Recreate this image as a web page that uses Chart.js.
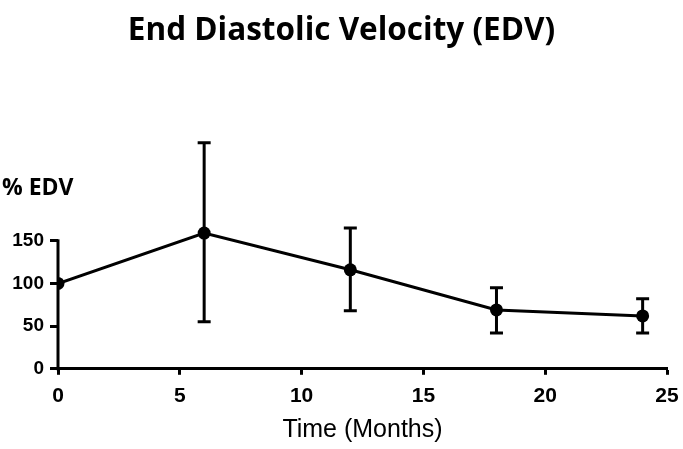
<!DOCTYPE html>
<html>
<head>
<meta charset="utf-8">
<script src="https://cdn.jsdelivr.net/npm/chart.js@4/dist/chart.umd.min.js"></script>
<style>
  html, body { margin: 0; padding: 0; background: #fff; }
  #wrap { width: 683px; height: 449px; }
</style>
</head>
<body>
<div id="wrap"><canvas id="edvChart" width="683" height="449"></canvas></div>
<script>
// data
const months = [0, 6, 12, 18, 24];
const edvMean = [100, 159, 116, 69, 62];
const edvUpper = [100, 265, 165, 95, 82];
const edvLower = [100, 55, 68, 42, 42];
const yTickValues = [0, 50, 100, 150];
const xTickValues = [0, 5, 10, 15, 20, 25];

const ctx = document.getElementById('edvChart').getContext('2d');

// error bars with caps
const errorBars = {
    id: 'errorBars',
    afterDatasetsDraw(chart) {
        const x = chart.scales.x, y = chart.scales.y;
        const c = chart.ctx;
        c.save();
        c.strokeStyle = '#000';
        c.lineWidth = 3;
        months.forEach((m, i) => {
            if (edvUpper[i] === edvLower[i]) return;
            const px = x.getPixelForValue(m);
            const top = y.getPixelForValue(edvUpper[i]);
            const bot = y.getPixelForValue(edvLower[i]);
            c.beginPath();
            c.moveTo(px, top); c.lineTo(px, bot);
            c.moveTo(px - 6.5, top); c.lineTo(px + 6.5, top);
            c.moveTo(px - 6.5, bot); c.lineTo(px + 6.5, bot);
            c.stroke();
        });
        c.restore();
    }
};

// y axis line only runs from 0 to 150, plus the "% EDV" label
const shortAxis = {
    id: 'shortAxis',
    beforeDatasetsDraw(chart) {
        const y = chart.scales.y;
        const c = chart.ctx;
        const left = chart.chartArea.left;
        c.save();
        c.strokeStyle = '#000';
        c.lineWidth = 3;
        c.beginPath();
        c.moveTo(left, y.getPixelForValue(0) + 1.5);
        c.lineTo(left, y.getPixelForValue(yTickValues[yTickValues.length - 1]) - 1.5);
        c.stroke();
        c.fillStyle = '#000';
        c.font = 'bold 23px "Open Sans", Lato, sans-serif';
        c.textAlign = 'left';
        c.textBaseline = 'middle';
        c.fillText('% EDV', 2, y.getPixelForValue(150) - 52);
        c.restore();
    }
};

new Chart(ctx, {
    type: 'line',
    data: {
        datasets: [{
            label: 'EDV',
            data: months.map((m, i) => ({ x: m, y: edvMean[i] })),
            borderColor: '#000',
            backgroundColor: '#000',
            borderWidth: 3,
            pointRadius: 6.5,
            pointBackgroundColor: '#000',
            pointBorderWidth: 0,
            tension: 0,
            fill: false
        }]
    },
    options: {
        responsive: false,
        animation: false,
        layout: { padding: { left: 0, right: 0, top: 0, bottom: 0 } },
        plugins: {
            legend: { display: false },
            tooltip: { enabled: false },
            title: {
                display: true,
                text: 'End Diastolic Velocity (EDV)',
                color: '#000',
                font: { family: '"Open Sans", Lato, sans-serif', size: 31.5, weight: 'bold' },
                padding: { top: 12, bottom: 63 }
            }
        },
        scales: {
            x: {
                type: 'linear',
                min: 0,
                max: 25,
                afterBuildTicks: (scale) => { scale.ticks = xTickValues.map(v => ({ value: v })); },
                afterFit: (scale) => { scale.paddingRight = 16; scale.paddingLeft = 0; },
                grid: { drawOnChartArea: false, drawTicks: true, tickLength: 6, tickWidth: 3, tickColor: '#000', color: '#000' },
                border: { display: true, color: '#000', width: 3 },
                ticks: {
                    color: '#000',
                    padding: 9,
                    maxRotation: 0,
                    font: { family: '"Liberation Sans", Arial, sans-serif', size: 21, weight: 'bold' }
                },
                title: {
                    display: true,
                    text: 'Time (Months)',
                    color: '#000',
                    font: { family: '"Liberation Sans", Arial, sans-serif', size: 25 },
                    padding: { top: -3, bottom: 4 }
                }
            },
            y: {
                min: 0,
                max: 300,
                afterBuildTicks: (scale) => { scale.ticks = yTickValues.map(v => ({ value: v })); },
                afterFit: (scale) => { scale.width = 58; },
                grid: { drawOnChartArea: false, drawTicks: true, tickLength: 8, tickWidth: 3, tickColor: '#000', color: '#000' },
                border: { display: false },
                ticks: {
                    color: '#000',
                    padding: 6,
                    font: { family: '"Liberation Sans", Arial, sans-serif', size: 19, weight: 'bold' }
                }
            }
        }
    },
    plugins: [errorBars, shortAxis]
});
</script>
</body>
</html>
